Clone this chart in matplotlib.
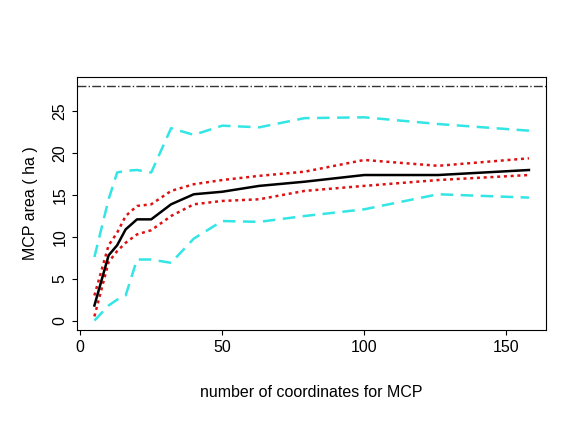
import matplotlib
matplotlib.use("Agg")
from matplotlib import pyplot as plt

plt.rcParams["font.family"] = ["Liberation Sans", "DejaVu Sans"]

n_coords = [5, 10, 13, 16, 20, 25, 32, 40, 50, 63, 79, 100, 126, 158]
area_mean = [1.8, 7.8, 9.0, 10.9, 12.1, 12.1, 13.9, 15.1, 15.4, 16.1, 16.6, 17.4, 17.4, 18.0]
ci_upper = [3.0, 9.0, 10.5, 12.5, 13.7, 13.9, 15.5, 16.3, 16.8, 17.3, 17.8, 19.2, 18.5, 19.4]
ci_lower = [0.5, 7.0, 8.3, 9.3, 10.3, 10.8, 12.5, 13.9, 14.3, 14.5, 15.5, 16.1, 16.8, 17.4]
range_upper = [7.6, 14.5, 17.7, 17.9, 18.0, 17.7, 23.0, 22.2, 23.3, 23.1, 24.2, 24.3, 23.5, 22.7]
range_lower = [0.0, 1.8, 2.5, 3.0, 7.3, 7.3, 6.9, 9.8, 11.9, 11.8, 12.5, 13.3, 15.1, 14.7]
total_area = 28

fig = plt.figure(figsize=(5.88, 4.23), dpi=100)
ax = fig.add_axes([0.131, 0.22, 0.798, 0.598])

ax.plot(n_coords, range_upper, color="#33e5e5", lw=1.8, ls=(0, (5, 3)))
ax.plot(n_coords, range_lower, color="#33e5e5", lw=1.8, ls=(0, (5, 3)))
ax.plot(n_coords, ci_upper, color="#dd1111", lw=1.8, ls=(0, (1.2, 1.5)))
ax.plot(n_coords, ci_lower, color="#dd1111", lw=1.8, ls=(0, (1.2, 1.5)))
ax.plot(n_coords, area_mean, color="black", lw=1.8)
ax.axhline(total_area, color="#333333", lw=1, ls="-.")

ax.set_xlim(-1.12, 164.1)
ax.set_ylim(-1.12, 29.12)
ax.set_xticks([0, 50, 100, 150])
ax.set_yticks([0, 5, 10, 15, 20, 25])
ax.tick_params(labelsize=11.5)
for lab in ax.get_yticklabels():
    lab.set_rotation(90)
    lab.set_va("center")
ax.set_xlabel("number of coordinates for MCP", fontsize=11.5, labelpad=22)
ax.set_ylabel("MCP area ( ha )", fontsize=11.5, labelpad=10)

fig.savefig("out.png", dpi=100)
